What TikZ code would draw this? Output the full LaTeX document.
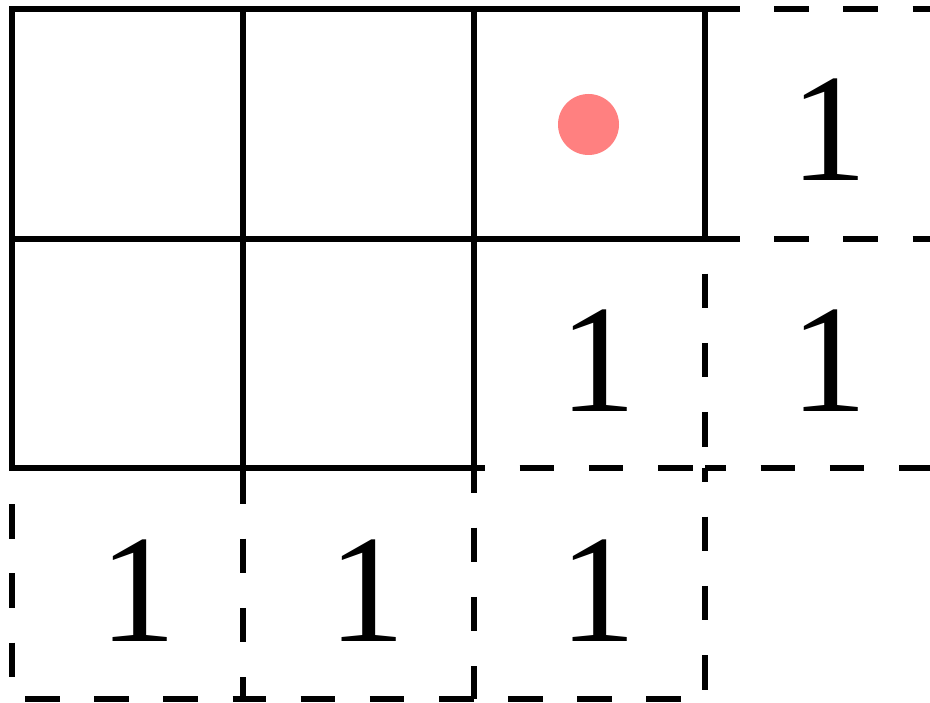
\documentclass[tikz,border=0pt]{standalone}
\usepackage{fontspec}
\setmainfont{Liberation Serif}
\definecolor{dotred}{RGB}{255,128,128}
\tikzset{
  gridline/.style={line width=5.5pt, black},
  dashline/.style={line width=5.5pt, black, dash pattern=on 34.6pt off 34.6pt},
  numtext/.style={inner sep=0pt, font=\fontsize{154}{154}\selectfont},
}
\begin{document}
\begin{tikzpicture}[x=1pt,y=-1pt]
\useasboundingbox (0,0) rectangle (930,703);
% dashed edges
\draw[dashline, dash phase=0pt]    (705,9)   -- (936,9);
\draw[dashline, dash phase=0pt]    (705,239) -- (936,239);
\draw[dashline, dash phase=23.6pt] (474,468) -- (705,468);
\draw[dashline, dash phase=13.6pt] (705,468) -- (936,468);
\draw[dashline, dash phase=56.2pt] (12,699)  -- (243,699);
\draw[dashline, dash phase=11.6pt] (243,699) -- (474,699);
\draw[dashline, dash phase=35.2pt] (474,699) -- (705,699);
\draw[dashline, dash phase=33pt]   (12,468)  -- (12,699);
\draw[dashline, dash phase=67.8pt] (243,468) -- (243,699);
\draw[dashline, dash phase=9.6pt]  (474,468) -- (474,699);
\draw[dashline, dash phase=20.6pt] (705,468) -- (705,699);
\draw[dashline, dash phase=34.6pt] (705,239) -- (705,468);
% solid cells
\draw[gridline] (12,9) rectangle (243,239);
\draw[gridline] (243,9) rectangle (474,239);
\draw[gridline] (474,9) rectangle (705,239);
\draw[gridline] (12,239) rectangle (243,468);
\draw[gridline] (243,239) rectangle (474,468);
% red dot
\fill[dotred] (588.5,124.5) circle (30.5pt);
% numbers
\node[numtext] (n30) at (829,130) {1};
\node[numtext] (n21) at (598,360.5) {1};
\node[numtext] (n31) at (829,360.5) {1};
\node[numtext] (n02) at (138,590.5) {1};
\node[numtext] (n12) at (367,590.5) {1};
\node[numtext] (n22) at (598,590.5) {1};
\end{tikzpicture}
\end{document}
